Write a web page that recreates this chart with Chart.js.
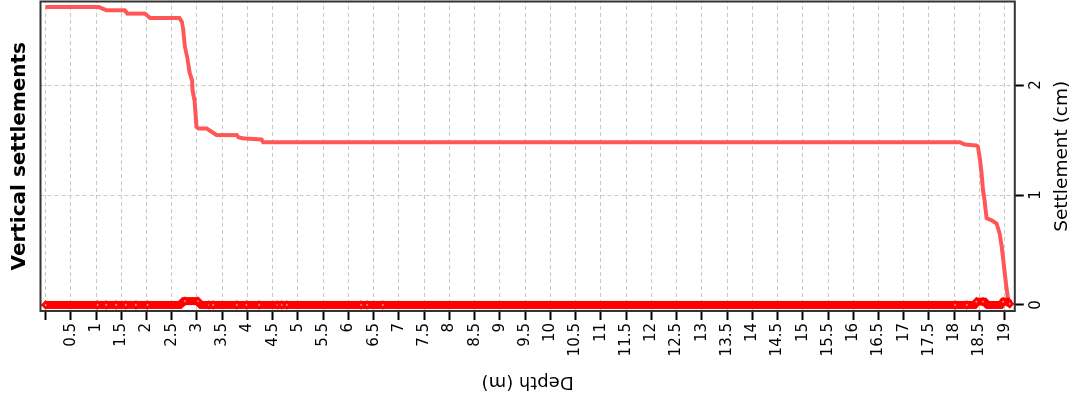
<!DOCTYPE html>
<html>
<head>
<meta charset="utf-8">
<title>Vertical settlements</title>
<script src="https://cdn.jsdelivr.net/npm/chart.js@4/dist/chart.umd.min.js"></script>
<style>
    html, body { margin: 0; padding: 0; background: #fff; overflow: hidden; }
    /* the chart is drawn upright (depth going down) and turned a quarter left */
    #turn {
        position: absolute; left: 0; top: 0;
        width: 399px; height: 1073px;
        transform-origin: 0 0;
        transform: translate(0, 399px) rotate(-90deg);
    }
</style>
</head>
<body>
<div id="turn"><canvas id="settlement-chart" width="399" height="1073"></canvas></div>
<script>
// Settlement curve (depth in m, settlement in cm)
const curveDepth = [0, 1.05, 1.21, 1.57, 1.62, 1.97, 2.07, 2.65, 2.70, 2.73, 2.76, 2.81, 2.85, 2.90, 2.91, 2.95, 2.97, 2.99,
    3.03, 3.19, 3.29, 3.39, 3.79, 3.82, 3.91, 4.28, 4.31, 18.11, 18.21, 18.44, 18.47, 18.51, 18.54, 18.57, 18.60, 18.64,
    18.74, 18.84, 18.90, 18.94, 18.97, 19.00, 19.03, 19.07, 19.08];
const curveSettle = [2.71, 2.71, 2.68, 2.68, 2.65, 2.65, 2.61, 2.61, 2.575, 2.50, 2.35, 2.245, 2.12, 2.045, 1.955, 1.86, 1.745, 1.62,
    1.605, 1.605, 1.575, 1.545, 1.545, 1.525, 1.515, 1.505, 1.48, 1.48, 1.46, 1.45, 1.44, 1.32, 1.20, 1.045, 0.955, 0.79,
    0.77, 0.74, 0.65, 0.53, 0.41, 0.29, 0.17, 0.045, 0];

// Red band of markers along zero
const bandDepth = [0, 2.66, 2.74, 3.0, 3.08, 18.40, 18.46, 18.60, 18.66, 18.92, 18.97, 19.05, 19.1];
const bandSettle = [0, 0, 0.035, 0.035, 0, 0, 0.03, 0.03, 0, 0, 0.03, 0.03, 0.01];

// Visible diamond markers in the band
const markDepth = [0, 1.03, 1.2, 1.4, 1.59, 1.79, 2.02, 2.76, 3.02, 3.24, 3.32, 3.79, 3.98, 4.23, 4.59, 4.68, 4.78,
    6.25, 6.37, 6.68, 18.02, 18.25, 18.44, 18.57, 18.97, 19.1];
const markSettle = [0, 0, 0, 0, 0, 0, 0, 0.035, 0.035, 0, 0, 0, 0, 0, 0, 0, 0,
    0, 0, 0, 0, 0, 0.03, 0.03, 0.03, 0.01];

// Axis settings
const depthMin = -0.1, depthMax = 19.2, depthStep = 0.5;
const settleMin = -0.055, settleMax = 2.76, settleStep = 1;
const chartTitle = 'Vertical settlements';

function toPoints(depths, values) {
    return depths.map((d, i) => ({ x: values[i], y: d }));
}

const FONT = "'DejaVu Sans', Verdana, sans-serif";

// Frame round the plot and the title centred over it
const framePlugin = {
    id: 'frame',
    afterDraw(chart) {
        const { ctx, chartArea: a } = chart;
        ctx.save();
        ctx.strokeStyle = '#333';
        ctx.lineWidth = 2;
        ctx.strokeRect(a.left, a.top, a.right - a.left, a.bottom - a.top);
        ctx.fillStyle = '#000';
        ctx.font = 'bold 20px ' + FONT;
        ctx.textAlign = 'center';
        ctx.textBaseline = 'alphabetic';
        ctx.fillText(chartTitle, (a.left + a.right) / 2, 25);
        ctx.restore();
    }
};

function drawChart() {
    const ctx = document.getElementById('settlement-chart').getContext('2d');
    const gridOpts = {
        color: '#c8c8c8',
        lineWidth: 1,
        tickColor: '#000',
        tickWidth: 2,
        tickLength: 9
    };
    new Chart(ctx, {
        type: 'scatter',
        data: {
            datasets: [
                {
                    label: 'markers',
                    data: toPoints(markDepth, markSettle),
                    showLine: false,
                    pointStyle: 'rectRot',
                    pointRadius: 3,
                    pointBorderWidth: 2.5,
                    pointBorderColor: '#ff0000',
                    pointBackgroundColor: '#ff9090',
                    order: 0
                },
                {
                    label: 'band',
                    data: toPoints(bandDepth, bandSettle),
                    showLine: true,
                    borderColor: '#ff0000',
                    borderWidth: 8,
                    pointRadius: 0,
                    order: 1
                },
                {
                    label: 'Settlement',
                    data: toPoints(curveDepth, curveSettle),
                    showLine: true,
                    borderColor: '#ff5757',
                    borderWidth: 4,
                    pointRadius: 0,
                    order: 2
                }
            ]
        },
        options: {
            responsive: false,
            animation: false,
            layout: { autoPadding: false, padding: { top: 40.5, right: 1.5, bottom: 0, left: 0 } },
            plugins: {
                legend: { display: false },
                tooltip: { enabled: false }
            },
            scales: {
                x: {
                    type: 'linear',
                    position: 'bottom',
                    min: settleMin,
                    max: settleMax,
                    ticks: {
                        stepSize: settleStep,
                        includeBounds: false,
                        maxRotation: 0,
                        padding: 3,
                        color: '#000',
                        font: { family: FONT, size: 15 }
                    },
                    grid: gridOpts,
                    border: { display: false, dash: [4, 3] },
                    title: {
                        display: true,
                        text: 'Settlement (cm)',
                        color: '#000',
                        font: { family: FONT, size: 18.5 },
                        padding: { top: 3, bottom: 0 }
                    }
                },
                y: {
                    type: 'linear',
                    position: 'left',
                    reverse: true,
                    min: depthMin,
                    max: depthMax,
                    ticks: {
                        stepSize: depthStep,
                        includeBounds: false,
                        autoSkip: false,
                        padding: 3,
                        color: '#000',
                        font: { family: FONT, size: 15 },
                        callback: v => (v === 0 ? '' : v)
                    },
                    grid: gridOpts,
                    border: { display: false, dash: [4, 3] },
                    title: {
                        display: true,
                        text: 'Depth (m)',
                        color: '#000',
                        font: { family: FONT, size: 18 },
                        padding: { top: 7, bottom: 11 }
                    }
                }
            }
        },
        plugins: [framePlugin]
    });
}

drawChart();
</script>
</body>
</html>
